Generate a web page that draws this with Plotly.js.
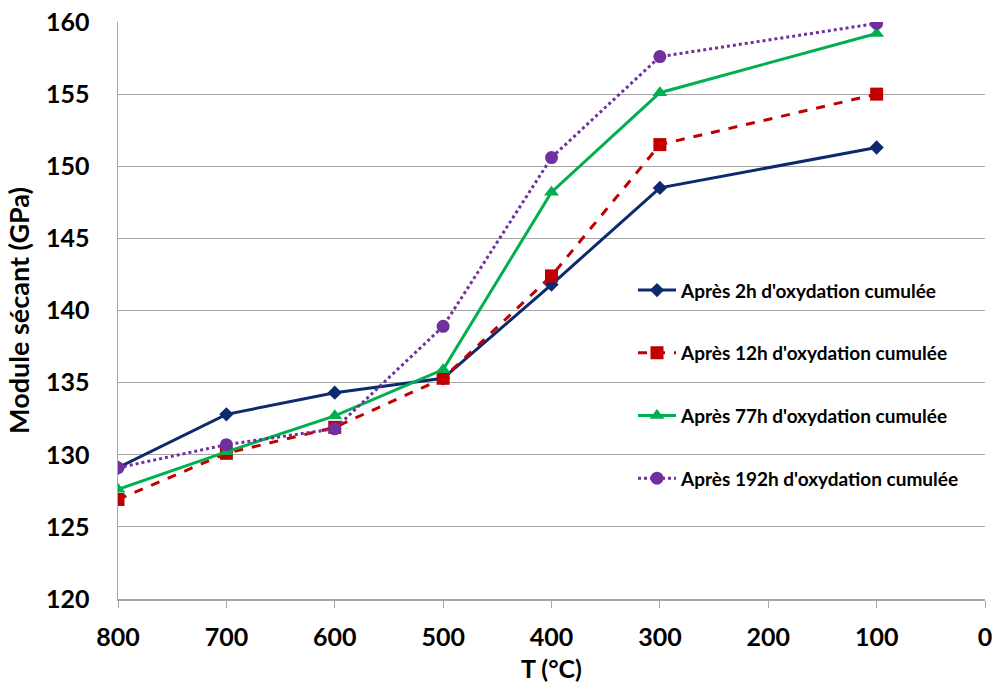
<!DOCTYPE html>
<html><head><meta charset="utf-8">
<script src="https://cdn.plot.ly/plotly-3.0.1.min.js"></script>
<style>html,body{margin:0;padding:0;background:#fff}#c{width:995px;height:691px}</style>
</head><body><div id="c"></div>
<script>
const temps = [800, 700, 600, 500, 400, 300, 100];
const s2h = [129.1, 132.8, 134.3, 135.3, 141.8, 148.5, 151.3];
const s12h = [126.9, 130.1, 131.9, 135.3, 142.4, 151.5, 155.0];
const s77h = [127.6, 130.2, 132.7, 135.9, 148.2, 155.1, 159.2];
const s192h = [129.1, 130.7, 131.8, 138.9, 150.6, 157.6, 159.9];
const names = ["Après 2h d'oxydation cumulée", "Après 12h d'oxydation cumulée", "Après 77h d'oxydation cumulée", "Après 192h d'oxydation cumulée"];
const xTicks = [800, 700, 600, 500, 400, 300, 200, 100, 0];
const yTicks = [120, 125, 130, 135, 140, 145, 150, 155, 160];

const traces = [
  {x: temps, y: s2h, name: names[0], legendgroup: 'a', mode: 'lines+markers', line: {color: '#0e2a6e', width: 3}, marker: {symbol: 'diamond', size: 11, color: '#0e2a6e'}},
  {x: temps, y: s12h, name: names[1], legendgroup: 'b', mode: 'lines+markers', line: {color: '#c00000', width: 3, dash: 'dash'}, marker: {symbol: 'square', size: 13, color: '#c00000'}},
  {x: temps, y: s77h, name: names[2], legendgroup: 'c', mode: 'lines+markers', line: {color: '#00b050', width: 3}, marker: {symbol: 'triangle-up', size: 13, color: '#00b050'}},
  {x: temps, y: s192h, name: names[3], legendgroup: 'd', mode: 'lines+markers', line: {color: '#7030a0', width: 3, dash: 'dot'}, marker: {symbol: 'circle', size: 13, color: '#7030a0'}}
].map(t => Object.assign({type: 'scatter'}, t));

const layout = {
  width: 995, height: 691,
  margin: {l: 118, r: 10, t: 22, b: 92},
  paper_bgcolor: '#fff', plot_bgcolor: '#fff',
  font: {family: 'Lato, "Open Sans", sans-serif', color: '#000'},
  showlegend: true,
  legend: {x: 0.594, y: 0.568, xanchor: 'left', yanchor: 'top', bgcolor: 'rgba(0,0,0,0)', itemwidth: 38,
           font: {size: 19, family: 'Lato, sans-serif', weight: 'bold', color: '#000'}, tracegroupgap: 35, traceorder: 'grouped'},
  xaxis: {range: [800, 0], tickvals: xTicks, ticktext: xTicks.map(String), showgrid: false, zeroline: false,
          showline: true, linecolor: '#a6a6a6', linewidth: 1.5, ticks: 'outside', ticklen: 7, tickcolor: '#a6a6a6',
          ticklabelstandoff: 8,
          tickfont: {size: 25, weight: 'bold', color: '#000'},
          title: {text: 'T (°C)', font: {size: 25, weight: 'bold', color: '#000'}, standoff: 11}},
  yaxis: {range: [120, 160], tickvals: yTicks, ticktext: yTicks.map(String), showgrid: true, gridcolor: '#a6a6a6', gridwidth: 1,
          zeroline: false, showline: true, linecolor: '#a6a6a6', linewidth: 1.5, ticks: '', ticklen: 0,
          ticklabelstandoff: 22,
          tickfont: {size: 25, weight: 'bold', color: '#000'},
          title: {text: 'Module sécant (GPa)', font: {size: 27, weight: 'bold', color: '#000'}, standoff: 8}}
};
Plotly.newPlot('c', traces, layout, {displayModeBar: false, staticPlot: true});
</script></body></html>
